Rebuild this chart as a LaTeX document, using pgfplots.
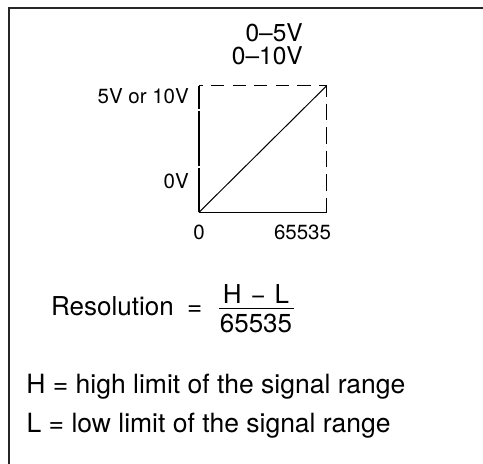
\documentclass[border=0pt]{standalone}
\usepackage{fontspec}
\setmainfont{TeX Gyre Heros}
\usepackage{pgfplots}
\pgfplotsset{compat=1.18}
\begin{document}
\begin{tikzpicture}[x=1pt,y=1pt]
\useasboundingbox (0,0) rectangle (483,464);
% partial outer frame
\draw[line width=1.2pt, black!85] (9,-10) -- (9,456) -- (495,456);
\begin{axis}[
  scale only axis, width=127.7pt, height=126.6pt,
  at={(199pt,251.7pt)}, anchor=south west,
  xmin=0, xmax=65535, ymin=0, ymax=10,
  scaled x ticks=false,
  separate axis lines,
  axis line style={draw=none},
  major tick length=0pt, tick style={draw=none},
  clip=false,
  xtick={0}, xticklabels={0},
  extra x ticks={65535}, extra x tick labels={65535},
  extra x tick style={xticklabel style={xshift=-24.2pt}},
  ytick={0,10}, yticklabels={\raisebox{24pt}{0V},\raisebox{-17.6pt}{5V or 10V}},
  xticklabel style={anchor=base, inner sep=0pt, yshift=-27.7pt, font=\fontsize{20.5}{24}\selectfont},
  yticklabel style={anchor=base east, inner sep=0pt, xshift=-10pt, font=\fontsize{20.5}{24}\selectfont},
]
\addplot[black, line width=1pt] coordinates {(0,0) (65535,10)};
\draw[line width=1.2pt] (rel axis cs:0,0) -- (rel axis cs:1,0);
\draw[line width=1.2pt, dash pattern=on 55pt off 2pt, dash phase=32pt] (rel axis cs:0,1) -- (rel axis cs:0,0);
\draw[line width=1.2pt, dash pattern=on 13pt off 8.5pt, dash phase=9pt] (rel axis cs:0,1) -- (rel axis cs:1,1);
\draw[line width=1.2pt, dash pattern=on 16.5pt off 7pt, dash phase=5.5pt] (rel axis cs:1,1) -- (rel axis cs:1,0);
\end{axis}
% range labels
\node[anchor=base east, inner sep=0pt, font=\fontsize{24.5}{28}\selectfont] at (303,422.3) {0--5V};
\node[anchor=base east, inner sep=0pt, font=\fontsize{24.5}{28}\selectfont] at (303,399) {0--10V};
% formula
\node[anchor=base west, inner sep=0pt, font=\fontsize{26}{30}\selectfont] at (51,148) {Resolution};
\node[anchor=base west, inner sep=0pt, font=\fontsize{26}{30}\selectfont] at (187,148) {=};
\node[anchor=base, inner sep=0pt, font=\fontsize{26}{30}\selectfont] at (256,160) {H\hspace{9pt}−\hspace{9pt}L};
\draw[line width=1.2pt] (219,155.7) -- (294,155.7);
\node[anchor=base, inner sep=0pt, font=\fontsize{26}{30}\selectfont] at (256,131.3) {65535};
% definitions
\node[anchor=base west, inner sep=0pt, font=\fontsize{26.5}{30}\selectfont] at (26.2,70.7) {H = high limit of the signal range};
\node[anchor=base west, inner sep=0pt, font=\fontsize{26.5}{30}\selectfont] at (26.4,31.3) {L = low limit of the signal range};
\end{tikzpicture}
\end{document}
